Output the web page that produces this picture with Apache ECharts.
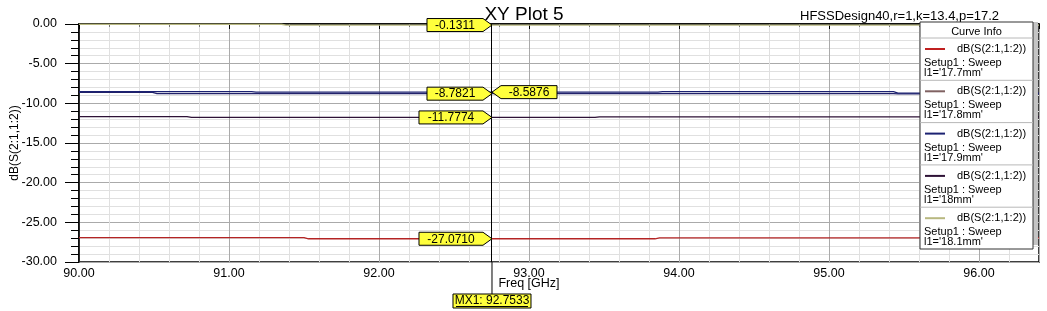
<!DOCTYPE html>
<html>
<head>
<meta charset="utf-8">
<script src="https://cdn.jsdelivr.net/npm/echarts@6/dist/echarts.min.js"></script>
<style>html,body{margin:0;padding:0;background:#fff}#c{width:1047px;height:311px}</style>
</head>
<body>
<div id="c"></div>
<script>
// ---- data ----
const curveNames = ["l1='17.7mm'", "l1='17.8mm'", "l1='17.9mm'", "l1='18mm'", "l1='18.1mm'"];
const curveColors = ['#c02020', '#806262', '#1c2272', '#2e1236', '#b8b880'];
const x177 = [90.00, 91.50, 91.53, 93.84, 93.87, 96.40];
const y177 = [-26.92, -26.92, -27.071, -27.071, -26.96, -26.96];
const x178 = [90.00, 90.49, 90.52, 95.43, 95.46, 96.40];
const y178 = [-8.62, -8.62, -8.7821, -8.7821, -8.80, -8.80];
const x179 = [90.00, 91.15, 91.18, 93.86, 93.89, 95.43, 95.46, 96.40];
const y179 = [-8.52, -8.52, -8.5876, -8.5876, -8.53, -8.53, -8.72, -8.72];
const x180 = [90.00, 90.72, 90.75, 93.44, 93.47, 96.40];
const y180 = [-11.68, -11.68, -11.7774, -11.7774, -11.70, -11.70];
const x181 = [90.00, 91.35, 91.38, 96.40];
const y181 = [-0.03, -0.03, -0.1311, -0.1311];
const markerFreq = 92.7533;
const markerVals = [-27.0710, -8.7821, -8.5876, -11.7774, -0.1311];
const xTicks = {min: 90, max: 96.4, interval: 1};
const yTicks = {min: -30, max: 0, interval: 5};

const FONT = "'Liberation Sans', Arial, sans-serif";
const xs = [x177, x178, x179, x180, x181];
const ys = [y177, y178, y179, y180, y181];
const plotColors = ['#b42424', '#22226a', '#1c2272', '#2e1236', '#b8b880'];

function pts(x, y) { return x.map((v, i) => [v, y[i]]); }

const series = xs.map((x, i) => ({
  type: 'line',
  name: curveNames[i],
  data: pts(x, ys[i]),
  showSymbol: false,
  symbol: 'none',
  lineStyle: {color: plotColors[i], width: 1.3},
  z: 3,
  markLine: i === 0 ? {
    symbol: ['none', 'none'], silent: true, animation: false,
    lineStyle: {color: '#000', width: 1, type: 'solid'},
    label: {show: false},
    data: [{xAxis: markerFreq}]
  } : undefined
}));

const chart = echarts.init(document.getElementById('c'), null, {renderer: 'canvas'});
chart.setOption({
  animation: false,
  backgroundColor: '#fff',
  title: [
    {text: 'XY Plot 5', left: 519, top: 0, textAlign: 'center',
      textStyle: {fontFamily: FONT, fontSize: 19, fontWeight: 'normal', color: '#000'}},
    {text: 'HFSSDesign40,r=1,k=13.4,p=17.2', left: 795, top: 5,
      textStyle: {fontFamily: FONT, fontSize: 13, fontWeight: 'normal', color: '#000'}}
  ],
  grid: {left: 79, top: 24, width: 960, height: 238, show: true, borderColor: '#000', borderWidth: 1.5,
    backgroundColor: 'transparent', containLabel: false, outerBoundsMode: 'none'},
  xAxis: {
    type: 'value', min: xTicks.min, max: xTicks.max, interval: xTicks.interval,
    axisLine: {show: true, lineStyle: {color: '#000', width: 1.5}},
    axisTick: {show: true, length: 5, lineStyle: {color: '#000'}},
    minorTick: {show: true, splitNumber: 5, length: 3, lineStyle: {color: '#777'}},
    splitLine: {show: true, lineStyle: {color: '#aaaaaa', width: 1}},
    minorSplitLine: {show: true, lineStyle: {color: '#e0e0e0', width: 1}},
    axisLabel: {fontFamily: FONT, fontSize: 12.5, color: '#000', margin: 5, showMaxLabel: false,
      formatter: v => v.toFixed(2)}
  },
  yAxis: {
    type: 'value', min: yTicks.min, max: yTicks.max, interval: yTicks.interval,
    name: 'dB(S(2:1,1:2))', nameLocation: 'middle', nameGap: 58, nameRotate: 90,
    nameMoveOverlap: false,
    nameTextStyle: {fontFamily: FONT, fontSize: 12, color: '#000'},
    axisLine: {show: true, lineStyle: {color: '#000', width: 1.5}},
    axisTick: {show: true, length: 14, lineStyle: {color: '#000'}},
    minorTick: {show: true, splitNumber: 5, length: 8, lineStyle: {color: '#000'}},
    splitLine: {show: true, lineStyle: {color: '#aaaaaa', width: 1}},
    minorSplitLine: {show: true, lineStyle: {color: '#e0e0e0', width: 1}},
    axisLabel: {fontFamily: FONT, fontSize: 12.5, color: '#000', margin: 22,
      formatter: v => v.toFixed(2)}
  },
  series: series
});

// ---- overlays: marker labels, marker extension, marker box, axis name, legend ----
const g = [];
markerVals.forEach((v, i) => {
  const p = chart.convertToPixel({gridIndex: 0}, [markerFreq, v]);
  const txt = v.toFixed(4);
  const w = txt.length >= 8 ? 73 : 65;
  const h = 6.5, tip = 9;
  const left = (i === 2);
  const s = left ? 1 : -1;
  const poly = [[p[0], p[1]], [p[0] + s * tip, p[1] - h], [p[0] + s * w, p[1] - h],
    [p[0] + s * w, p[1] + h], [p[0] + s * tip, p[1] + h]];
  g.push({type: 'polygon', shape: {points: poly},
    style: {fill: '#ffff3c', stroke: '#000', lineWidth: 1}, z: 12});
  g.push({type: 'text', x: p[0] + s * (tip + (w - tip) / 2), y: p[1] + 0.5,
    style: {text: txt, fill: '#000', font: '12px ' + FONT, align: 'center', verticalAlign: 'middle'}, z: 13});
});
const mxPx = chart.convertToPixel({gridIndex: 0}, [markerFreq, yTicks.min]);
g.push({type: 'line', shape: {x1: mxPx[0], y1: mxPx[1], x2: mxPx[0], y2: mxPx[1] + 32},
  style: {stroke: '#000', lineWidth: 1}, z: 10});
g.push({type: 'rect', shape: {x: mxPx[0] - 39, y: mxPx[1] + 32, width: 78, height: 14},
  style: {fill: '#ffff3c', stroke: '#000', lineWidth: 1}, z: 10});
g.push({type: 'text', x: mxPx[0], y: mxPx[1] + 39,
  style: {text: 'MX1: ' + markerFreq.toFixed(4), fill: '#000', font: '12px ' + FONT, align: 'center', verticalAlign: 'middle'}, z: 11});
g.push({type: 'line', shape: {x1: mxPx[0] - 36, y1: mxPx[1] + 44.5, x2: mxPx[0] + 36, y2: mxPx[1] + 44.5},
  style: {stroke: '#000', lineWidth: 1}, z: 11});
g.push({type: 'text', x: 529, y: 284,
  style: {text: 'Freq [GHz]', fill: '#000', font: '12.5px ' + FONT, align: 'center', verticalAlign: 'middle'}, z: 10});

// legend box
const LX = 920, LY = 22, LW = 113, LH = 227;
g.push({type: 'rect', shape: {x: LX + LW, y: LY, width: 5, height: LH - 4}, style: {fill: '#c4c4c4'}, z: 20});
g.push({type: 'rect', shape: {x: LX, y: LY, width: LW, height: LH}, style: {fill: '#fff', stroke: '#333', lineWidth: 1}, z: 20});
g.push({type: 'text', x: LX + LW / 2, y: 32,
  style: {text: 'Curve Info', fill: '#000', font: '11px ' + FONT, align: 'center', verticalAlign: 'middle'}, z: 21});
curveNames.forEach((nm, i) => {
  const y0 = 38 + i * 42.3;
  g.push({type: 'line', shape: {x1: LX, y1: y0, x2: LX + LW, y2: y0}, style: {stroke: '#b8b8b8', lineWidth: 1}, z: 21});
  g.push({type: 'line', shape: {x1: 925, y1: y0 + 11, x2: 945, y2: y0 + 11}, style: {stroke: curveColors[i], lineWidth: 2}, z: 21});
  g.push({type: 'text', x: 957, y: y0 + 11,
    style: {text: 'dB(S(2:1,1:2))', fill: '#000', font: '11px ' + FONT, verticalAlign: 'middle'}, z: 21});
  g.push({type: 'text', x: 924, y: y0 + 25,
    style: {text: 'Setup1 : Sweep', fill: '#000', font: '11px ' + FONT, verticalAlign: 'middle'}, z: 21});
  g.push({type: 'text', x: 924, y: y0 + 35,
    style: {text: nm, fill: '#000', font: '11px ' + FONT, verticalAlign: 'middle'}, z: 21});
});
chart.setOption({graphic: g});
</script>
</body>
</html>
